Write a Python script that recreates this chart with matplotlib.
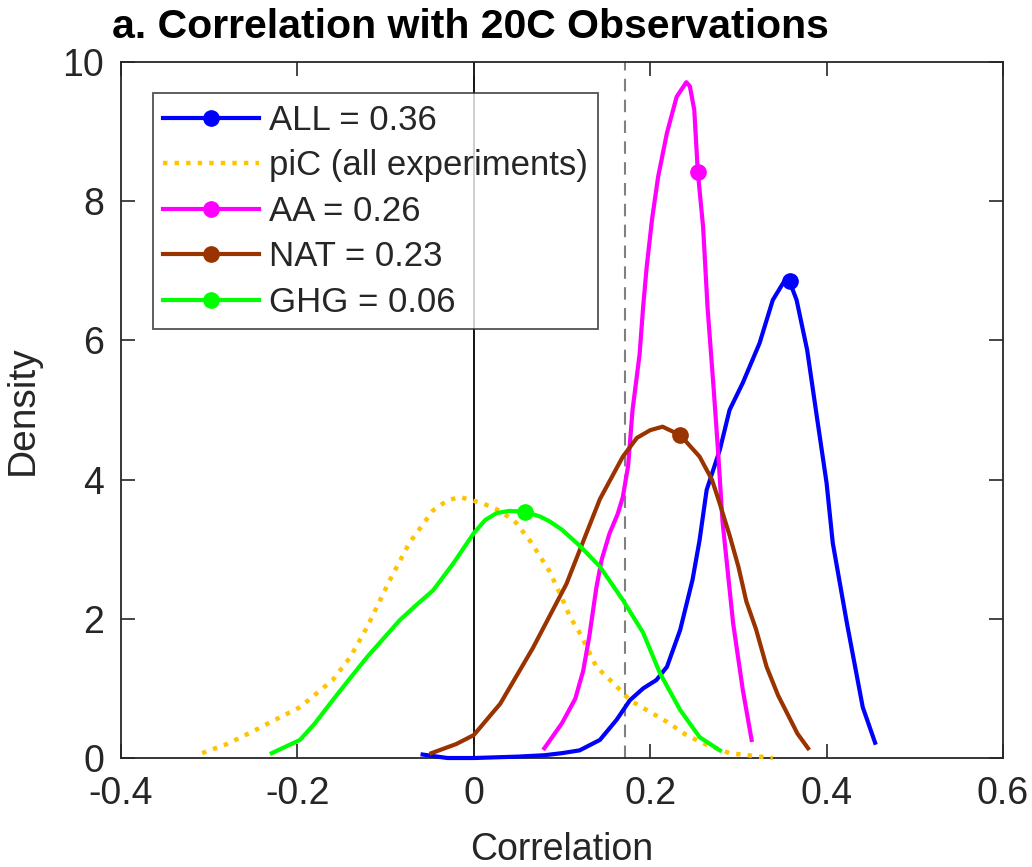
import numpy as np
import matplotlib
matplotlib.use("Agg")
import matplotlib.pyplot as plt
from matplotlib.lines import Line2D

plt.rcParams['font.family'] = ['Liberation Sans', 'DejaVu Sans']

# ---- data ----
all_x = [-0.058, -0.03, 0.0, 0.05, 0.08, 0.10, 0.12, 0.143, 0.162, 0.177, 0.192, 0.207, 0.219, 0.234,
         0.248, 0.256, 0.264, 0.279, 0.29, 0.305, 0.324, 0.339, 0.352, 0.358, 0.366, 0.378, 0.389,
         0.40, 0.407, 0.423, 0.441, 0.455]
all_y = [0.05, 0.0, 0.0, 0.02, 0.04, 0.07, 0.11, 0.26, 0.55, 0.83, 1.0, 1.12, 1.31, 1.84,
         2.56, 3.13, 3.85, 4.43, 5.0, 5.39, 5.96, 6.58, 6.85, 6.85, 6.58, 5.86, 4.9,
         3.95, 3.09, 1.94, 0.73, 0.22]

pic_x = [-0.308, -0.28, -0.254, -0.225, -0.197, -0.16, -0.14, -0.121, -0.095, -0.073, -0.046, -0.03,
         -0.016, 0.01, 0.03, 0.048, 0.065, 0.086, 0.10, 0.109, 0.12, 0.139, 0.158, 0.177, 0.196,
         0.219, 0.241, 0.264, 0.29, 0.339]
pic_y = [0.07, 0.2, 0.36, 0.55, 0.73, 1.12, 1.45, 1.88, 2.56, 3.09, 3.56, 3.7,
         3.75, 3.66, 3.55, 3.38, 3.1, 2.68, 2.3, 2.03, 1.8, 1.31, 1.08, 0.83, 0.69,
         0.52, 0.33, 0.19, 0.07, 0.0]

aa_x = [0.08, 0.10, 0.115, 0.124, 0.131, 0.139, 0.145, 0.154, 0.163, 0.169, 0.175, 0.18, 0.188,
        0.192, 0.196, 0.202, 0.209, 0.219, 0.23, 0.241, 0.245, 0.25, 0.254, 0.26, 0.265, 0.272,
        0.277, 0.282, 0.294, 0.305, 0.315]
aa_y = [0.14, 0.5, 0.85, 1.25, 1.75, 2.45, 2.85, 3.23, 3.5, 3.75, 4.2, 5.0, 5.8,
        6.48, 7.05, 7.73, 8.35, 8.98, 9.5, 9.71, 9.65, 9.31, 8.42, 7.63, 6.48, 5.3,
        4.4, 3.4, 1.94, 0.98, 0.26]

nat_x = [-0.048, -0.02, 0.0, 0.03, 0.067, 0.105, 0.143, 0.169, 0.185, 0.2, 0.214, 0.234, 0.256,
         0.27, 0.279, 0.29, 0.30, 0.309, 0.32, 0.332, 0.345, 0.355, 0.367, 0.379]
nat_y = [0.07, 0.2, 0.33, 0.78, 1.58, 2.5, 3.72, 4.33, 4.6, 4.71, 4.76, 4.64, 4.33,
         4.0, 3.65, 3.2, 2.75, 2.25, 1.85, 1.31, 0.9, 0.65, 0.35, 0.14]

ghg_x = [-0.229, -0.197, -0.18, -0.16, -0.14, -0.121, -0.10, -0.084, -0.065, -0.046, -0.023, 0.0,
         0.013, 0.026, 0.04, 0.058, 0.075, 0.086, 0.10, 0.12, 0.143, 0.169, 0.192, 0.211, 0.234,
         0.256, 0.279]
ghg_y = [0.07, 0.26, 0.5, 0.83, 1.15, 1.45, 1.75, 1.98, 2.2, 2.41, 2.8, 3.23,
         3.42, 3.52, 3.55, 3.54, 3.47, 3.4, 3.28, 3.05, 2.75, 2.27, 1.8, 1.22, 0.69,
         0.3, 0.11]

labels_vals = {'ALL': 0.36, 'AA': 0.26, 'NAT': 0.23, 'GHG': 0.06}
marker_x = {'ALL': 0.358, 'AA': 0.254, 'NAT': 0.234, 'GHG': 0.058}
threshold = 0.172

xticks = [-0.4, -0.2, 0, 0.2, 0.4, 0.6]
xtick_labels = ['-0.4', '-0.2', '0', '0.2', '0.4', '0.6']
yticks = [0, 2, 4, 6, 8, 10]

c_all = '#0000FF'
c_pic = '#FFC400'
c_aa = '#FF00FF'
c_nat = '#993300'
c_ghg = '#00FF00'

fig = plt.figure(figsize=(10.32, 8.67), dpi=100)
ax = fig.add_axes([0.1172, 0.1257, 0.8547, 0.8028])

lw = 3.0
ms = 11
dots = (0, (1, 1.6))
ax.axvline(0, color='#000000', lw=1.3, zorder=1)
ax.axvline(threshold, color='#808080', lw=1.5, ls=(0, (6, 4)), zorder=1)

ax.plot(all_x, all_y, color=c_all, lw=lw, zorder=3, solid_joinstyle='round', clip_on=False)
ax.plot(pic_x, pic_y, color=c_pic, lw=3.2, ls=dots, zorder=3, clip_on=False)
ax.plot(aa_x, aa_y, color=c_aa, lw=lw, zorder=3, solid_joinstyle='round', clip_on=False)
ax.plot(nat_x, nat_y, color=c_nat, lw=lw, zorder=3, solid_joinstyle='round', clip_on=False)
ax.plot(ghg_x, ghg_y, color=c_ghg, lw=lw, zorder=3, solid_joinstyle='round', clip_on=False)

for name, xs, ys, c in [('ALL', all_x, all_y, c_all), ('AA', aa_x, aa_y, c_aa),
                        ('NAT', nat_x, nat_y, c_nat), ('GHG', ghg_x, ghg_y, c_ghg)]:
    mx = marker_x[name]
    ax.plot([mx], [np.interp(mx, xs, ys)], 'o', color=c, ms=ms, zorder=4)

handles = [
    Line2D([], [], color=c_all, lw=lw, marker='o', ms=ms),
    Line2D([], [], color=c_pic, lw=3.2, ls=dots),
    Line2D([], [], color=c_aa, lw=lw, marker='o', ms=ms),
    Line2D([], [], color=c_nat, lw=lw, marker='o', ms=ms),
    Line2D([], [], color=c_ghg, lw=lw, marker='o', ms=ms),
]
labels = ['ALL = %.2f' % labels_vals['ALL'], 'piC (all experiments)',
          'AA = %.2f' % labels_vals['AA'], 'NAT = %.2f' % labels_vals['NAT'],
          'GHG = %.2f' % labels_vals['GHG']]
leg = ax.legend(handles, labels, loc='upper left', bbox_to_anchor=(0.036, 0.955),
                fontsize=25, frameon=True, fancybox=False, numpoints=1,
                handlelength=2.75, handletextpad=0.3, labelspacing=0.36,
                borderpad=0.3, borderaxespad=0.0)
leg.get_frame().set_edgecolor('#262626')
leg.get_frame().set_linewidth(1.3)
for t in leg.get_texts():
    t.set_color('#262626')

ax.set_xlim(-0.4, 0.6)
ax.set_ylim(0, 10)
ax.set_xticks(xticks)
ax.set_xticklabels(xtick_labels)
ax.set_yticks(yticks)
ax.tick_params(direction='in', length=10, width=1.2, top=True, right=True,
               labelsize=27, colors='#262626')
ax.tick_params(axis='x', pad=13)
ax.tick_params(axis='y', pad=12)
for s in ax.spines.values():
    s.set_linewidth(1.3)
    s.set_color('#262626')

ax.set_xlabel('Correlation', fontsize=27, color='#262626', labelpad=14)
ax.set_ylabel('Density', fontsize=28, color='#262626', labelpad=16)
fig.text(112 / 1032, 1 - 27 / 867, 'a. Correlation with 20C Observations',
         fontsize=29.5, fontweight='bold', ha='left', va='center', color='#000000')

fig.savefig('out.png', dpi=100)
